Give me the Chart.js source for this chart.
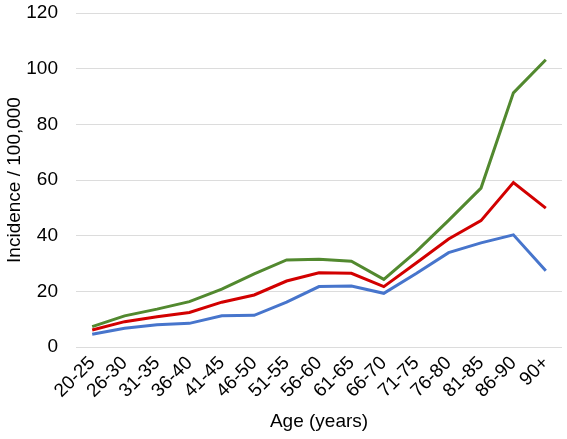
<!DOCTYPE html>
<html><head><meta charset="utf-8">
<script src="https://cdn.jsdelivr.net/npm/chart.js@4/dist/chart.umd.min.js"></script>
<style>html,body{margin:0;padding:0;background:#fff;}canvas{display:block;}</style>
</head><body>
<canvas id="c" width="567" height="439"></canvas>
<script>
const categories = ["20-25","26-30","31-35","36-40","41-45","46-50","51-55","56-60","61-65","66-70","71-75","76-80","81-85","86-90","90+"];
const greenSeries = [7.3,11.2,13.6,16.3,20.8,26.3,31.3,31.5,30.8,24.3,34.3,45.5,57.1,91.3,103.2];
const redSeries   = [6.1,9.1,10.9,12.4,16.1,18.7,23.7,26.7,26.5,21.7,30.2,38.8,45.4,59.1,49.9];
const blueSeries  = [4.6,6.7,8.0,8.5,11.2,11.4,16.1,21.7,21.9,19.3,26.4,33.9,37.4,40.3,27.4];
const yTicks = [0,20,40,60,80,100,120];
const xTitle = "Age (years)";
const yTitle = "Incidence / 100,000";

const font = "'Liberation Sans', Arial, sans-serif";
new Chart(document.getElementById('c'), {
  type: 'line',
  data: {
    labels: categories,
    datasets: [
      {data: greenSeries, borderColor: '#52892f', borderWidth: 3, pointRadius: 0, tension: 0, fill: false},
      {data: redSeries, borderColor: '#d20000', borderWidth: 3, pointRadius: 0, tension: 0, fill: false},
      {data: blueSeries, borderColor: '#4775cc', borderWidth: 3, pointRadius: 0, tension: 0, fill: false}
    ]
  },
  options: {
    responsive: false,
    animation: false,
    layout: {padding: {top: 13, right: 5, left: 3, bottom: 0}},
    plugins: {legend: {display: false}, tooltip: {enabled: false}},
    scales: {
      x: {
        offset: true,
        grid: {display: false, drawTicks: false},
        border: {display: false},
        ticks: {color: '#000', font: {family: font, size: 19}, maxRotation: 45, minRotation: 45, padding: 5, autoSkip: false},
        title: {display: true, text: xTitle, color: '#000', font: {family: font, size: 19}, padding: {top: 0, bottom: 6}},
        afterFit: (s) => { s.height = 439 - 347; s.paddingLeft = 0; s.paddingRight = 0; }
      },
      y: {
        min: 0, max: 120,
        afterBuildTicks: (s) => { s.ticks = yTicks.map(v => ({value: v})); },
        grid: {color: '#dcdcdc', lineWidth: 1, drawTicks: false},
        border: {display: false},
        ticks: {color: '#000', font: {family: font, size: 19}, padding: 18},
        title: {display: true, text: yTitle, color: '#000', font: {family: font, size: 19}, padding: {top: 0, bottom: 0}},
        afterFit: (s) => { s.width = 76 - 3; s.paddingTop = 0; s.paddingBottom = 0; }
      }
    }
  }
});
</script>
</body></html>
